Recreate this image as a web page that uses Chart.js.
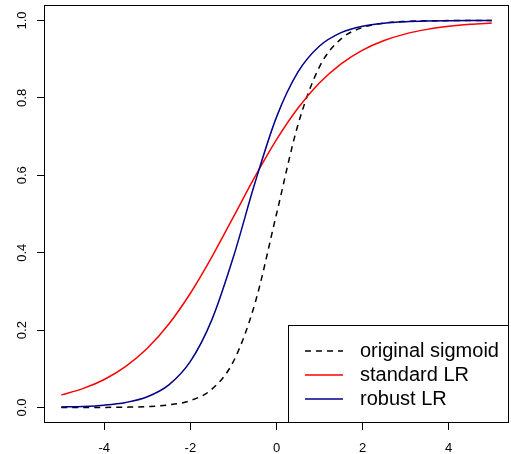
<!DOCTYPE html>
<html>
<head>
<meta charset="utf-8">
<script src="https://cdn.jsdelivr.net/npm/chart.js@4"></script>
<style>
  html, body { margin: 0; padding: 0; background: #fff; }
  #wrap { width: 511px; height: 454px; position: relative; }
</style>
</head>
<body>
<div id="wrap"><canvas id="chart"></canvas></div>
<script>
// values, x every 0.5
const xValues = [-5, -4.5, -4, -3.5, -3, -2.5, -2, -1.5, -1, -0.5, 0, 0.5, 1, 1.5, 2, 2.5, 3, 3.5, 4, 4.5, 5];
const originalSigmoid = [0.0000, 0.0001, 0.0003, 0.0009, 0.0025, 0.0067, 0.0180, 0.0474, 0.1192, 0.2689, 0.5000,
  0.7311, 0.8808, 0.9526, 0.9820, 0.9933, 0.9975, 0.9991, 0.9997, 0.9999, 1.0000];
const standardLR = [0.0326, 0.0488, 0.0724, 0.1063, 0.1531, 0.2158, 0.2953, 0.3894, 0.4925, 0.5963, 0.6921,
  0.7738, 0.8389, 0.8880, 0.9235, 0.9483, 0.9654, 0.9770, 0.9848, 0.9900, 0.9934];
const robustLR = [0.0013, 0.0028, 0.0061, 0.0131, 0.0279, 0.0587, 0.1192, 0.2271, 0.3894, 0.5805, 0.7503,
  0.8670, 0.9340, 0.9685, 0.9852, 0.9931, 0.9968, 0.9985, 0.9993, 0.9997, 0.9999];

const seriesLabels = ['original sigmoid', 'standard LR', 'robust LR'];
const xTicks = [-4, -2, 0, 2, 4];
const yTicks = [0, 0.2, 0.4, 0.6, 0.8, 1.0];

const FONT = '"Liberation Sans", Arial, Helvetica, sans-serif';

function pts(ys) {
  return xValues.map((x, i) => ({ x, y: ys[i] }));
}

// R style box, rotated y labels and legend
const rStyle = {
  id: 'rStyle',
  afterDraw(chart) {
    const ctx = chart.ctx;
    const a = chart.chartArea;
    const ys = chart.scales.y;

    ctx.save();
    ctx.strokeStyle = '#000';
    ctx.lineWidth = 1;
    ctx.strokeRect(Math.round(a.left) + 0.5, Math.round(a.top) + 0.5,
      Math.round(a.right - a.left) - 1, Math.round(a.bottom - a.top) - 1);

    // y tick labels, read bottom to top
    ctx.fillStyle = '#000';
    ctx.font = '13px ' + FONT;
    ctx.textAlign = 'center';
    ctx.textBaseline = 'middle';
    ys.ticks.forEach(t => {
      const py = ys.getPixelForValue(t.value);
      ctx.save();
      ctx.translate(22, py);
      ctx.rotate(-Math.PI / 2);
      ctx.fillText(t.value.toFixed(1), 0, 0);
      ctx.restore();
    });

    // legend box in the bottom right corner
    const lx = 288, ly = 325;
    const lw = Math.round(a.right) - lx, lh = Math.round(a.bottom) - ly;
    ctx.fillStyle = '#fff';
    ctx.fillRect(lx, ly, lw, lh);
    ctx.strokeRect(lx + 0.5, ly + 0.5, lw - 1, lh - 1);

    ctx.font = '20px ' + FONT;
    ctx.textAlign = 'left';
    ctx.textBaseline = 'middle';
    chart.data.datasets.forEach((ds, i) => {
      const rowY = 351 + i * 24;
      ctx.beginPath();
      ctx.setLineDash(ds.borderDash || []);
      ctx.strokeStyle = ds.borderColor;
      ctx.lineWidth = ds.borderWidth;
      ctx.moveTo(305, rowY);
      ctx.lineTo(343, rowY);
      ctx.stroke();
      ctx.setLineDash([]);
      ctx.fillStyle = '#000';
      ctx.fillText(ds.label, 360, rowY);
    });
    ctx.restore();
  }
};

const common = {
  pointRadius: 0,
  borderWidth: 1.5,
  fill: false,
  cubicInterpolationMode: 'monotone',
};

new Chart(document.getElementById('chart'), {
  type: 'line',
  data: {
    datasets: [
      { ...common, label: seriesLabels[0], data: pts(originalSigmoid), borderColor: '#000000', borderDash: [6, 5], order: 3 },
      { ...common, label: seriesLabels[1], data: pts(standardLR), borderColor: '#ff0000', order: 2 },
      { ...common, label: seriesLabels[2], data: pts(robustLR), borderColor: '#00008b', order: 1 },
    ]
  },
  options: {
    responsive: true,
    maintainAspectRatio: false,
    animation: false,
    layout: { padding: { top: 5, right: 2, left: 0, bottom: 0 } },
    plugins: {
      legend: { display: false },
      tooltip: { enabled: false },
    },
    scales: {
      x: {
        type: 'linear',
        min: -5.4,
        max: 5.4,
        afterBuildTicks: s => { s.ticks = xTicks.map(v => ({ value: v })); },
        afterFit: s => { s.height = 31; },
        grid: { drawOnChartArea: false, drawTicks: true, tickLength: 7, color: '#000', lineWidth: 1 },
        border: { display: false },
        ticks: {
          color: '#000',
          font: { family: FONT, size: 13 },
          padding: 11,
          maxRotation: 0,
          callback: v => String(v),
        },
      },
      y: {
        type: 'linear',
        min: -0.04,
        max: 1.04,
        afterBuildTicks: s => { s.ticks = yTicks.map(v => ({ value: v })); },
        afterFit: s => { s.width = 44; },
        grid: { drawOnChartArea: false, drawTicks: true, tickLength: 7, color: '#000', lineWidth: 1 },
        border: { display: false },
        ticks: { display: false },
      },
    },
  },
  plugins: [rStyle],
});
</script>
</body>
</html>
